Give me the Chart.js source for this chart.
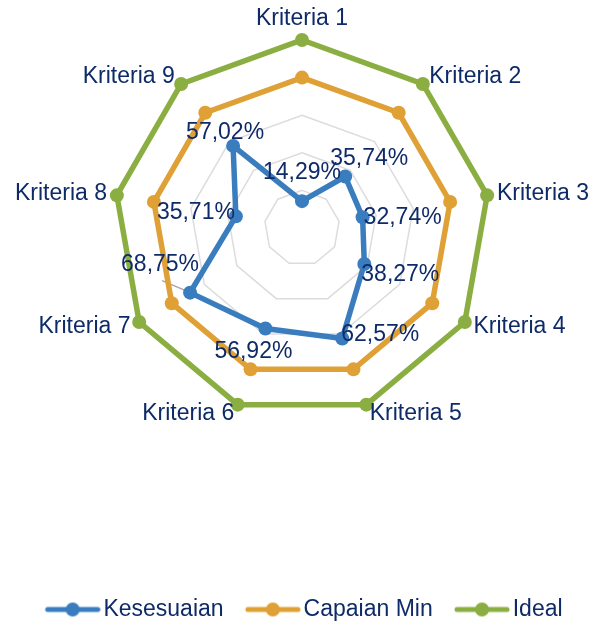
<!DOCTYPE html>
<html>
<head>
<meta charset="utf-8">
<script src="https://cdn.jsdelivr.net/npm/chart.js@4.4.0/dist/chart.umd.min.js"></script>
<style>
  body { margin: 0; background: #fff; }
  canvas { display: block; }
</style>
</head>
<body>
<canvas id="grafica" width="596" height="621"></canvas>
<script>
var kriteria = ['Kriteria 1', 'Kriteria 2', 'Kriteria 3', 'Kriteria 4', 'Kriteria 5',
                'Kriteria 6', 'Kriteria 7', 'Kriteria 8', 'Kriteria 9'];
var kesesuaian = [14.29, 35.74, 32.74, 38.27, 62.57, 56.92, 68.75, 35.71, 57.02];
var capaianMin = [80, 80, 80, 80, 80, 80, 80, 80, 80];
var ideal = [100, 100, 100, 100, 100, 100, 100, 100, 100];
var skala = [0, 20, 40, 60, 80, 100];

var biru = '#3A7DBF';
var jingga = '#DFA036';
var hijau = '#8BAE42';
var warnaTeks = '#0E2B68';
var huruf = '"Liberation Sans", Arial, sans-serif';

// geser posisi label nilai (dx, dy) dari titik Kesesuaian
var geserLabel = [[0, -28], [24, -18], [40, 0], [36, 11], [38, -4],
                  [-12, 23], [-30, -28], [-40, -4], [-8, -13]];
var labelBergaris = 6; // label 68,75% pakai garis penunjuk

function ikonLegenda(warna) {
    var c = document.createElement('canvas');
    c.width = 76;
    c.height = 16;
    var g = c.getContext('2d');
    g.strokeStyle = warna;
    g.lineWidth = 5;
    g.lineCap = 'round';
    g.beginPath();
    g.moveTo(23, 8);
    g.lineTo(73, 8);
    g.stroke();
    g.fillStyle = warna;
    g.beginPath();
    g.arc(48, 8, 7, 0, Math.PI * 2);
    g.fill();
    return c;
}
var ikon = [ikonLegenda(biru), ikonLegenda(jingga), ikonLegenda(hijau)];

function formatPersen(v) {
    return v.toFixed(2).replace('.', ',') + '%';
}

// nama kriteria di ujung tiap sumbu
var labelSumbu = {
    id: 'labelSumbu',
    afterDraw: function(chart) {
        var s = chart.scales.r;
        var ctx = chart.ctx;
        ctx.save();
        ctx.font = '23px ' + huruf;
        ctx.fillStyle = warnaTeks;
        kriteria.forEach(function(k, i) {
            var p = s.getPointPosition(i, s.drawingArea + 10);
            var sin = Math.sin(s.getIndexAngle(i));
            if (Math.abs(sin) < 0.01) {
                ctx.textAlign = 'center';
                ctx.textBaseline = 'bottom';
            } else {
                ctx.textAlign = sin > 0 ? 'left' : 'right';
                ctx.textBaseline = 'middle';
            }
            ctx.fillText(k, p.x, p.y);
        });
        ctx.restore();
    }
};

// label nilai untuk seri Kesesuaian
var labelNilai = {
    id: 'labelNilai',
    beforeDatasetsDraw: function(chart) {
        var titik = chart.getDatasetMeta(0).data[labelBergaris];
        var g = geserLabel[labelBergaris];
        var ctx = chart.ctx;
        ctx.save();
        ctx.strokeStyle = '#A6A6A6';
        ctx.lineWidth = 1.5;
        ctx.beginPath();
        ctx.moveTo(titik.x + g[0] + 2, titik.y + g[1] + 16);
        ctx.lineTo(titik.x - 2, titik.y - 1);
        ctx.stroke();
        ctx.restore();
    },
    afterDatasetsDraw: function(chart) {
        var meta = chart.getDatasetMeta(0);
        var ctx = chart.ctx;
        ctx.save();
        ctx.font = '23px ' + huruf;
        ctx.fillStyle = warnaTeks;
        ctx.textAlign = 'center';
        ctx.textBaseline = 'middle';
        meta.data.forEach(function(pt, i) {
            ctx.fillText(formatPersen(kesesuaian[i]), pt.x + geserLabel[i][0], pt.y + geserLabel[i][1]);
        });
        ctx.restore();
    }
};

function seri(label, data, warna) {
    return {
        label: label,
        data: data,
        borderColor: warna,
        backgroundColor: warna,
        pointBackgroundColor: warna,
        pointBorderColor: warna,
        borderWidth: 5.5,
        pointRadius: 7,
        pointBorderWidth: 0,
        fill: false
    };
}

var ctx = document.getElementById('grafica').getContext('2d');
var grafik = new Chart(ctx, {
    type: 'radar',
    data: {
        labels: kriteria,
        datasets: [
            seri('Kesesuaian', kesesuaian, biru),
            seri('Capaian Min', capaianMin, jingga),
            seri('Ideal', ideal, hijau)
        ]
    },
    options: {
        responsive: false,
        animation: false,
        layout: { padding: { left: 0, right: 0, top: 0, bottom: -10 } },
        scales: {
            r: {
                min: skala[0],
                max: skala[skala.length - 1],
                ticks: { display: false, stepSize: skala[1] - skala[0] },
                grid: { color: '#DCDCDC', lineWidth: 1.5 },
                angleLines: { display: false },
                pointLabels: { display: false },
                afterFit: function(s) {
                    s.xCenter = 302;
                    s.yCenter = 228;
                    s.drawingArea = 188;
                }
            }
        },
        plugins: {
            tooltip: { enabled: false },
            legend: {
                position: 'bottom',
                labels: {
                    usePointStyle: true,
                    pointStyleWidth: 58.5,
                    padding: 10,
                    color: warnaTeks,
                    font: { size: 23, family: huruf },
                    generateLabels: function(chart) {
                        var items = Chart.defaults.plugins.legend.labels.generateLabels(chart);
                        items.forEach(function(it, i) { it.pointStyle = ikon[i]; });
                        return items;
                    }
                }
            }
        }
    },
    plugins: [labelSumbu, labelNilai]
});
</script>
</body>
</html>
